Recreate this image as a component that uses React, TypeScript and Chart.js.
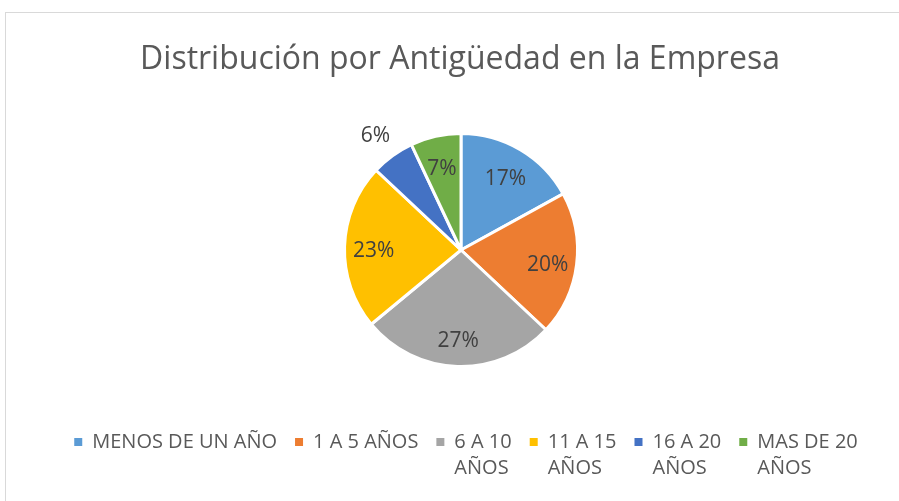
import React, { useEffect, useRef } from "react";
import { Chart, registerables } from "chart.js";

Chart.register(...registerables);

const titleText = "Distribución por Antigüedad en la Empresa";
const categories = [
  "MENOS DE UN AÑO",
  "1 A 5 AÑOS",
  "6 A 10 AÑOS",
  "11 A 15 AÑOS",
  "16 A 20 AÑOS",
  "MAS DE 20 AÑOS",
];
const percentages = [17, 20, 27, 23, 6, 7];
const colors = ["#5B9BD5", "#ED7D31", "#A5A5A5", "#FFC000", "#4472C4", "#70AD47"];
const legendLines = [
  ["MENOS DE UN AÑO"],
  ["1 A 5 AÑOS"],
  ["6 A 10", "AÑOS"],
  ["11 A 15", "AÑOS"],
  ["16 A 20", "AÑOS"],
  ["MAS DE 20", "AÑOS"],
];

const FONT = "'Open Sans', 'Noto Sans', sans-serif";

const decor = {
  id: "decor",
  beforeDraw(chart: any) {
    const ctx = chart.ctx;
    ctx.save();
    ctx.fillStyle = "#FFFFFF";
    ctx.fillRect(0, 0, chart.width, chart.height);
    ctx.strokeStyle = "#D9D9D9";
    ctx.lineWidth = 1;
    ctx.strokeRect(5.5, 12.5, 1000, 1000);
    ctx.restore();
  },
  afterDraw(chart: any) {
    const ctx = chart.ctx;
    ctx.save();
    // title
    ctx.font = `32px ${FONT}`;
    ctx.fillStyle = "#595959";
    ctx.textAlign = "center";
    ctx.textBaseline = "middle";
    ctx.fillText(titleText, 460, 60);

    // data labels
    ctx.font = `21px ${FONT}`;
    ctx.fillStyle = "#404040";
    const meta = chart.getDatasetMeta(0);
    meta.data.forEach((arc: any, i: number) => {
      const p = arc.getProps(["x", "y", "startAngle", "endAngle", "outerRadius"], true);
      const mid = (p.startAngle + p.endAngle) / 2;
      const v = percentages[i];
      const f = v < 6.5 ? 1.25 : 0.75;
      ctx.fillText(
        v + "%",
        p.x + Math.cos(mid) * p.outerRadius * f,
        p.y + Math.sin(mid) * p.outerRadius * f + 4
      );
    });

    // legend
    ctx.font = `20px ${FONT}`;
    ctx.textAlign = "left";
    const sq = 8;
    const sqGap = 10;
    const itemGap = 18;
    const widths = legendLines.map(
      (lines) => sq + sqGap + Math.max(...lines.map((l) => ctx.measureText(l).width))
    );
    const total = widths.reduce((a, b) => a + b, 0) + itemGap * (widths.length - 1);
    let x = 466 - total / 2;
    const row1 = 442;
    const lh = 26;
    legendLines.forEach((lines, i) => {
      ctx.fillStyle = colors[i];
      ctx.fillRect(x, row1 - sq / 2, sq, sq);
      ctx.fillStyle = "#595959";
      lines.forEach((l, j) => ctx.fillText(l, x + sq + sqGap, row1 + j * lh));
      x += widths[i] + itemGap;
    });
    ctx.restore();
  },
};

export default function App() {
  const ref = useRef<HTMLCanvasElement>(null);
  useEffect(() => {
    if (!ref.current) return;
    const chart = new Chart(ref.current, {
      type: "pie",
      data: {
        labels: categories,
        datasets: [
          {
            data: percentages,
            backgroundColor: colors,
            borderColor: "#FFFFFF",
            borderWidth: 3,
          },
        ],
      },
      options: {
        responsive: false,
        maintainAspectRatio: false,
        animation: false,
        layout: { padding: { top: 132, bottom: 133, left: 23, right: 0 } },
        plugins: {
          legend: { display: false },
          title: { display: false },
          tooltip: { enabled: false },
        },
      },
      plugins: [decor],
    });
    return () => chart.destroy();
  }, []);
  return (
    <div style={{ position: "absolute", left: 0, top: 0, width: 899, height: 501 }}>
      <canvas ref={ref} width={899} height={501} style={{ display: "block" }} />
    </div>
  );
}
